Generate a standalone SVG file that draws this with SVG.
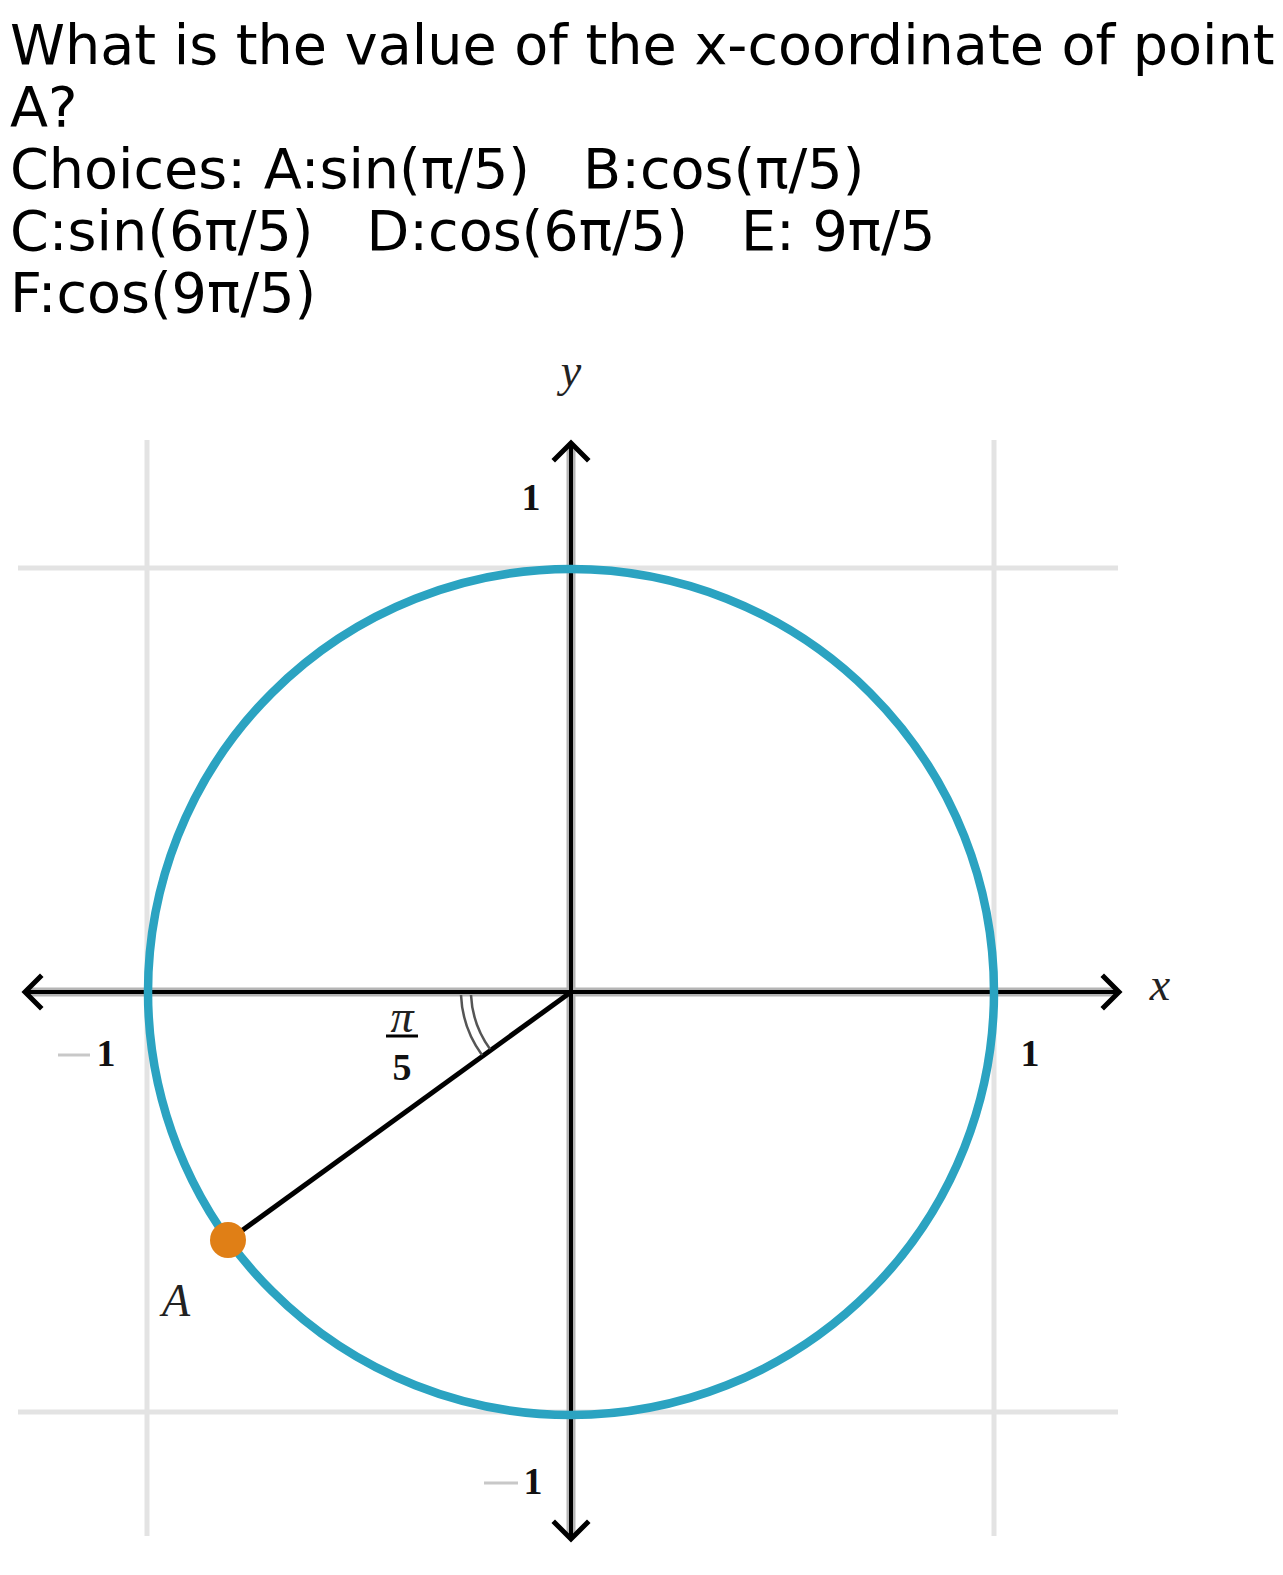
<svg xmlns="http://www.w3.org/2000/svg" width="1283" height="1575" viewBox="0 0 1283 1575">
<style>
.q{font-family:"DejaVu Sans",sans-serif;font-size:55.6px;fill:#000;white-space:pre}
.grid{stroke:#e3e3e3;stroke-width:5;fill:none}
.axbg{stroke:#b5b5b5;stroke-width:9;fill:none}
.ax{stroke:#000;stroke-width:4;fill:none}
.arr{stroke:#000;stroke-width:5;fill:none;stroke-linecap:square;stroke-linejoin:miter}
.num{font-family:"Liberation Serif",serif;font-weight:bold;font-size:38px;fill:#111}
.var{font-family:"Liberation Serif",serif;font-style:italic;font-size:46px;fill:#222}
</style>
<rect width="1283" height="1575" fill="#fff"/>
<g id="question">
<text class="q" x="10" y="64">What is the value of the x-coordinate of point</text>
<text class="q" x="10" y="126">A?</text>
<text class="q" x="10" y="188">Choices: A:sin(π/5)   B:cos(π/5)</text>
<text class="q" x="10" y="250">C:sin(6π/5)   D:cos(6π/5)   E: 9π/5</text>
<text class="q" x="10" y="312">F:cos(9π/5)</text>
</g>
<g id="grid">
<line class="grid" x1="147" y1="440" x2="147" y2="1536"/>
<line class="grid" x1="994" y1="440" x2="994" y2="1536"/>
<line class="grid" x1="18" y1="568" x2="1118" y2="568"/>
<line class="grid" x1="18" y1="1412" x2="1118" y2="1412"/>
</g>
<g id="axes">
<line class="axbg" x1="26" y1="992" x2="1118" y2="992"/>
<line class="axbg" x1="571" y1="446" x2="571" y2="1536"/>
<line class="ax" x1="24" y1="992" x2="1120" y2="992"/>
<line class="ax" x1="571" y1="443" x2="571" y2="1538"/>
<polyline class="arr" points="40,977 25,992 40,1007"/>
<polyline class="arr" points="1104,977 1119,992 1104,1007"/>
<polyline class="arr" points="555,459 571,443 587,459"/>
<polyline class="arr" points="555,1523 571,1539 587,1523"/>
</g>
<g id="circle">
<circle cx="571" cy="992" r="423" fill="none" stroke="#2ba3c1" stroke-width="8.5"/>
</g>
<g id="connectors">
<line x1="571" y1="992" x2="229" y2="1240" stroke="#000" stroke-width="5"/>
<path d="M461,995 A110,110 0 0 0 482,1055" fill="none" stroke="#555" stroke-width="2.5"/>
<path d="M471,995 A100,100 0 0 0 490,1049" fill="none" stroke="#555" stroke-width="2.5"/>
</g>
<g id="pointA">
<circle cx="228" cy="1240" r="18" fill="#e07f16"/>
<text class="var" x="176" y="1316" text-anchor="middle" font-size="52">A</text>
</g>
<g id="labels">
<text class="var" x="1160" y="1000" text-anchor="middle">x</text>
<text class="var" x="571" y="386" text-anchor="middle">y</text>
<text class="num" x="531" y="510" text-anchor="middle">1</text>
<text class="num" x="1030" y="1066" text-anchor="middle">1</text>
<line x1="58" y1="1055" x2="90" y2="1055" stroke="#c8c8c8" stroke-width="3"/>
<text class="num" x="106" y="1066" text-anchor="middle">1</text>
<line x1="484" y1="1483" x2="518" y2="1483" stroke="#c8c8c8" stroke-width="3"/>
<text class="num" x="533" y="1494" text-anchor="middle">1</text>
<text class="var" x="402" y="1032" text-anchor="middle" font-size="32">π</text>
<line x1="386" y1="1036" x2="418" y2="1036" stroke="#000" stroke-width="3"/>
<text class="num" x="402" y="1080" text-anchor="middle" font-size="30">5</text>
</g>
</svg>
